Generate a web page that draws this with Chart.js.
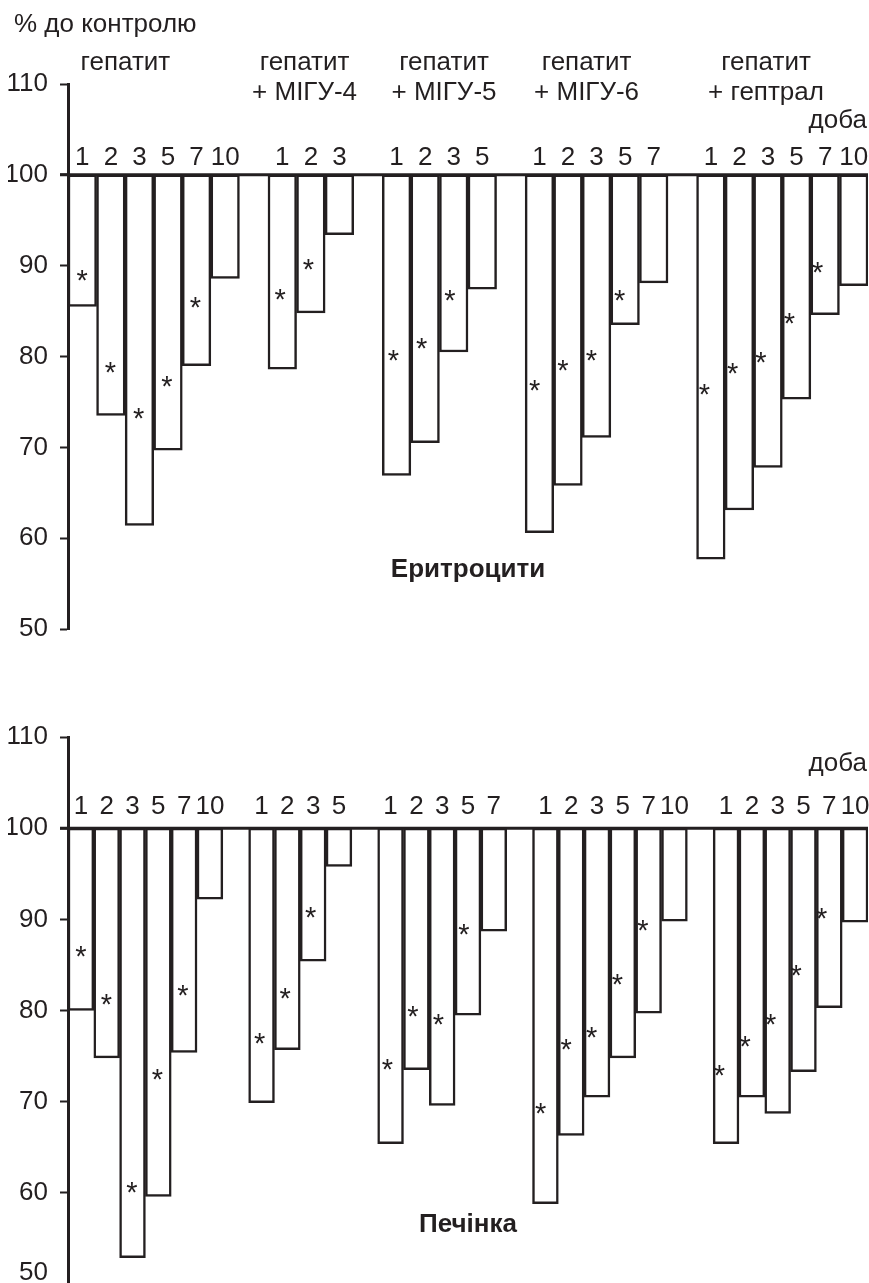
<!DOCTYPE html>
<html lang="uk">
<head>
<meta charset="utf-8">
<title>% до контролю — Еритроцити / Печінка</title>
<script src="https://cdn.jsdelivr.net/npm/chart.js@4.4.1/dist/chart.umd.min.js"></script>
<style>
  html, body { margin: 0; padding: 0; background: #fff; overflow: hidden; }
  #page { position: relative; width: 869px; height: 1283px; overflow: hidden; }
  .box { position: absolute; left: 0; width: 869px; }
  #ery-box { top: 0; height: 660px; }
  #liv-box { top: 660px; height: 640px; }
</style>
</head>
<body>
<div id="page">
  <div class="box" id="ery-box"><canvas id="ery" width="869" height="660"></canvas></div>
  <div class="box" id="liv-box"><canvas id="liv" width="869" height="640"></canvas></div>
</div>
<script>
// ── Data (% до контролю) ─────────────────────────────────────
const GROUP_NAMES = [
  ['гепатит'],
  ['гепатит', '+ МІГУ-4'],
  ['гепатит', '+ МІГУ-5'],
  ['гепатит', '+ МІГУ-6'],
  ['гепатит', '+ гептрал'],
];
const Y_TICKS = [50, 60, 70, 80, 90, 100, 110];

// Еритроцити
const ERY_DAYS = [
  ['1', '2', '3', '5', '7', '10'],
  ['1', '2', '3'],
  ['1', '2', '3', '5'],
  ['1', '2', '3', '5', '7'],
  ['1', '2', '3', '5', '7', '10'],
];
const ERY_VALUES = [
  [85.5, 73.5, 61.4, 69.7, 79.0, 88.6],
  [78.6, 84.8, 93.4],
  [66.9, 70.5, 80.5, 87.4],
  [60.6, 65.8, 71.1, 83.5, 88.1],
  [57.7, 63.1, 67.8, 75.3, 84.6, 87.8],
];
// level of the "*" mark next to each bar (null = not significant)
const ERY_STARS = [
  [89.1, 79.0, 73.9, 77.4, 86.1, null],
  [87.0, 90.3, null],
  [80.3, 81.6, 86.9, null],
  [77.0, 79.2, 80.3, 86.9, null],
  [76.5, 78.8, 80.1, 84.3, 90.0, null],
];

// Печінка
const LIV_DAYS = [
  ['1', '2', '3', '5', '7', '10'],
  ['1', '2', '3', '5'],
  ['1', '2', '3', '5', '7'],
  ['1', '2', '3', '5', '7', '10'],
  ['1', '2', '3', '5', '7', '10'],
];
const LIV_VALUES = [
  [80.0, 74.8, 52.9, 59.6, 75.4, 92.2],
  [69.9, 75.7, 85.4, 95.8],
  [65.4, 73.5, 69.6, 79.5, 88.7],
  [58.8, 66.3, 70.5, 74.8, 79.7, 89.8],
  [65.4, 70.5, 68.7, 73.3, 80.3, 89.7],
];
const LIV_STARS = [
  [86.6, 81.4, 60.8, 73.1, 82.4, null],
  [77.1, 82.0, 90.9, null],
  [74.2, 80.1, 79.2, 89.1, null],
  [69.4, 76.4, 77.7, 83.6, 89.5, null],
  [73.6, 76.8, 79.2, 84.5, 90.8, null],
];

// ── Style ─────────────────────────────────────────────────────
const INK  = '#231f20';
const FONT = "'Liberation Sans', Arial, sans-serif";

// groups -> flat category list, one empty slot between groups
function flatten(days, values, stars) {
  const labels = [], bars = [], marks = [];
  days.forEach((g, gi) => {
    if (gi > 0) { labels.push(''); bars.push(null); marks.push(null); }
    g.forEach((d, i) => {
      labels.push(d);
      bars.push([values[gi][i], 100]);
      marks.push(stars[gi][i]);
    });
  });
  return { labels, bars, marks };
}

// ── Annotations: baseline, day numbers, "*", captions ────────
const annotate = {
  id: 'annotate',
  afterDatasetsDraw(chart, args, o) {
    const { ctx, chartArea: ca, scales: { x, y } } = chart;
    const y100 = y.getPixelForValue(100);
    ctx.save();
    ctx.fillStyle = INK;
    ctx.strokeStyle = INK;

    // 100 % line
    ctx.lineWidth = 3;
    ctx.beginPath();
    ctx.moveTo(ca.left - 8, y100);
    ctx.lineTo(ca.right, y100);
    ctx.stroke();

    ctx.font = `26px ${FONT}`;
    ctx.textBaseline = 'alphabetic';
    ctx.textAlign = 'center';

    // day numbers above the bars
    chart.data.labels.forEach((lab, i) => {
      if (lab) ctx.fillText(lab, x.getPixelForValue(i), y100 - o.dayGap);
    });

    // group captions
    (o.groups || []).forEach((lines, gi) => {
      const gx = x.getPixelForValue(o.groupAt[gi]);
      lines.forEach((t, li) => ctx.fillText(t, gx, ca.top - 14 + li * 30));
    });

    if (o.yTitle) {
      ctx.textAlign = 'left';
      ctx.fillText(o.yTitle, 14, 32);
    }

    ctx.textAlign = 'right';
    ctx.fillText('доба', ca.right - 1, y100 - o.unitGap);

    // lowest tick label sits above its tick (figure cropped at the bottom)
    if (o.raiseLowLabel) {
      ctx.textBaseline = 'middle';
      ctx.fillText(String(Y_TICKS[0]), ca.left - 20, y.getPixelForValue(Y_TICKS[0]) - o.raiseLowLabel);
      ctx.textBaseline = 'alphabetic';
    }

    // significance marks
    ctx.textAlign = 'center';
    ctx.font = `29px ${FONT}`;
    o.marks.forEach((v, i) => {
      if (v == null) return;
      const cx = ca.left + (x.getPixelForValue(i) - ca.left) * 0.99;
      ctx.fillText('*', cx, y.getPixelForValue(v) + 16);
    });

    ctx.font = `bold 26px ${FONT}`;
    ctx.fillText(o.title, (ca.left + ca.right) / 2, y.getPixelForValue(55.7));

    ctx.restore();
  },
};

function makeChart(canvasId, flat, padding, extra) {
  return new Chart(document.getElementById(canvasId), {
    type: 'bar',
    data: {
      labels: flat.labels,
      datasets: [{
        data: flat.bars,
        backgroundColor: '#ffffff',
        borderColor: INK,
        borderWidth: 2.5,
        borderSkipped: false,
        barPercentage: 1,
        categoryPercentage: 1,
      }],
    },
    options: {
      responsive: false,
      animation: false,
      devicePixelRatio: 1,
      layout: { padding },
      plugins: {
        legend: { display: false },
        tooltip: { enabled: false },
        annotate: Object.assign({ marks: flat.marks }, extra),
      },
      scales: {
        x: { display: false },
        y: {
          min: 50,
          max: 110,
          afterBuildTicks: (s) => { s.ticks = Y_TICKS.map((v) => ({ value: v })); },
          afterFit: (s) => { s.width = 60; s.paddingTop = 0; s.paddingBottom = 0; },
          ticks: {
            color: INK,
            font: { family: FONT, size: 26 },
            padding: 12,
            callback: (v) => (extra.raiseLowLabel && v === Y_TICKS[0] ? '' : String(v)),
          },
          grid: { drawOnChartArea: false, drawTicks: true, tickLength: 8, tickWidth: 2, tickColor: INK },
          border: { display: true, color: INK, width: 3 },
        },
      },
    },
    plugins: [annotate],
  });
}

const ery = flatten(ERY_DAYS, ERY_VALUES, ERY_STARS);
const liv = flatten(LIV_DAYS, LIV_VALUES, LIV_STARS);

makeChart('ery', ery, { top: 84, bottom: 31, left: 8, right: 1 }, {
  title: 'Еритроцити',
  yTitle: '% до контролю',
  groups: GROUP_NAMES,
  groupAt: [1.51, 7.78, 12.66, 17.65, 23.93],
  dayGap: 10,
  unitGap: 47,
});

makeChart('liv', liv, { top: 77, bottom: 16, left: 8, right: 1 }, {
  title: 'Печінка',
  dayGap: 14,
  unitGap: 57,
  raiseLowLabel: 11,
});
</script>
</body>
</html>
